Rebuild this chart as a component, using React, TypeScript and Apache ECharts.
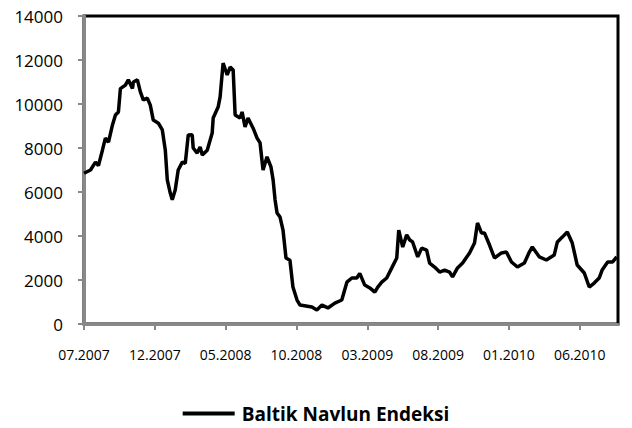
import React, { useEffect, useRef } from "react";
import * as echarts from "echarts";

const monthOffsets = [
  0, 0.46, 0.81, 1.02, 1.3, 1.51, 1.73, 2.01, 2.22, 2.43, 2.57, 2.92, 3.13, 3.42, 3.49, 3.77, 3.98, 4.19, 4.47, 4.68,
  4.89, 5.25, 5.53, 5.74, 5.88, 6.09, 6.23, 6.44, 6.65, 6.94, 7.15, 7.36, 7.64, 7.71, 7.99, 8.2, 8.35, 8.7, 9.05, 9.12,
  9.47, 9.61, 9.82, 10.11, 10.32, 10.53, 10.67, 11.02, 11.16, 11.37, 11.58, 11.94, 12.22, 12.43, 12.64, 12.92, 13.2,
  13.35, 13.49, 13.63, 13.84, 14.05, 14.26, 14.54, 14.75, 15.04, 15.25, 16.09, 16.44, 16.8, 17.22, 17.71, 18.2, 18.56,
  18.91, 19.26, 19.47, 19.82, 20.18, 20.53, 20.74, 21.02, 21.37, 21.73, 22.08, 22.22, 22.5, 22.78, 23.0, 23.2, 23.56,
  23.84, 24.19, 24.4, 24.75, 25.11, 25.46, 25.81, 26.02, 26.37, 26.73, 27.22, 27.57, 27.78, 28.06, 28.27, 28.63, 28.98,
  29.47, 29.82, 30.18, 30.6, 31.09, 31.44, 31.65, 32.15, 32.64, 33.2, 33.42, 33.77, 34.12, 34.47, 34.82, 35.32, 35.67,
  36.02, 36.37, 36.58, 36.97, 37.32, 37.61,
];

const indexValues = [
  6850, 7000, 7360, 7200, 7900, 8450, 8270, 9050, 9500, 9640, 10700, 10860, 11100, 10700, 11000, 11100, 10550, 10180,
  10270, 9950, 9270, 9130, 8820, 7900, 6550, 5950, 5650, 6090, 7000, 7360, 7300, 8590, 8600, 8000, 7770, 8050, 7680,
  7900, 8680, 9360, 9860, 10320, 11860, 11320, 11680, 11550, 9500, 9360, 9640, 8960, 9360, 8900, 8450, 8230, 7000,
  7600, 7140, 6550, 5640, 5050, 4860, 4270, 3000, 2900, 1680, 1090, 860, 770, 640, 860, 730, 950, 1090, 1900, 2090,
  2090, 2300, 1770, 1640, 1450, 1680, 1900, 2090, 2550, 3000, 4270, 3500, 4050, 3820, 3730, 3050, 3450, 3360, 2770,
  2590, 2360, 2450, 2360, 2140, 2550, 2770, 3230, 3680, 4590, 4140, 4140, 3590, 3000, 3230, 3270, 2820, 2590, 2770,
  3270, 3500, 3050, 2910, 3140, 3730, 3950, 4180, 3680, 2680, 2320, 1680, 1860, 2090, 2450, 2820, 2820, 3050,
];

const xTickLabels = ["07.2007", "12.2007", "05.2008", "10.2008", "03.2009", "08.2009", "01.2010", "06.2010"];
const seriesName = "Baltik Navlun Endeksi";

const FONT = "Open Sans";

export default function App() {
  const ref = useRef<HTMLDivElement>(null);
  useEffect(() => {
    if (!ref.current) return;
    const chart = echarts.init(ref.current, null, { renderer: "svg" });
    const data = monthOffsets.map((m, i) => [m, indexValues[i]]);
    chart.setOption({
      animation: false,
      backgroundColor: "#ffffff",
      grid: {
        left: 84,
        top: 16,
        right: 14,
        bottom: 104,
        show: true,
        borderColor: "#000000",
        borderWidth: 3,
      },
      xAxis: {
        type: "value",
        min: 0,
        max: 37.7,
        interval: 5,
        splitLine: { show: false },
        axisLine: { show: true, lineStyle: { color: "#888888", width: 3 } },
        axisTick: { show: true, length: 6, lineStyle: { color: "#888888", width: 2 } },
        axisLabel: {
          showMaxLabel: false,
          margin: 23,
          color: "#000",
          fontFamily: FONT,
          fontSize: 14,
          formatter: (v: number) => {
            const i = Math.round(v / 5);
            return Math.abs(v - i * 5) < 1e-6 ? xTickLabels[i] ?? "" : "";
          },
        },
      },
      yAxis: {
        type: "value",
        min: 0,
        max: 14000,
        interval: 2000,
        splitLine: { show: false },
        axisLine: { show: true, lineStyle: { color: "#888888", width: 3 } },
        axisTick: { show: true, length: 6, lineStyle: { color: "#888888", width: 2 } },
        axisLabel: {
          color: "#000",
          fontFamily: FONT,
          fontSize: 17,
          margin: 21,
          formatter: (v: number) => String(v),
        },
      },
      legend: {
        top: 404,
        left: "center",
        padding: 0,
        icon: "rect",
        itemWidth: 52,
        itemHeight: 4,
        data: [seriesName],
        textStyle: {
          fontFamily: FONT,
          fontSize: 19,
          fontWeight: "bold",
          color: "#000",
          padding: [0, 0, 0, 2],
        },
      },
      series: [
        {
          name: seriesName,
          type: "line",
          data,
          showSymbol: false,
          symbol: "none",
          lineStyle: { color: "#000", width: 3.5 },
          itemStyle: { color: "#000" },
        },
      ],
    });
    return () => chart.dispose();
  }, []);
  return (
    <div
      ref={ref}
      style={{ position: "absolute", left: 0, top: 0, width: 632, height: 428 }}
    />
  );
}
